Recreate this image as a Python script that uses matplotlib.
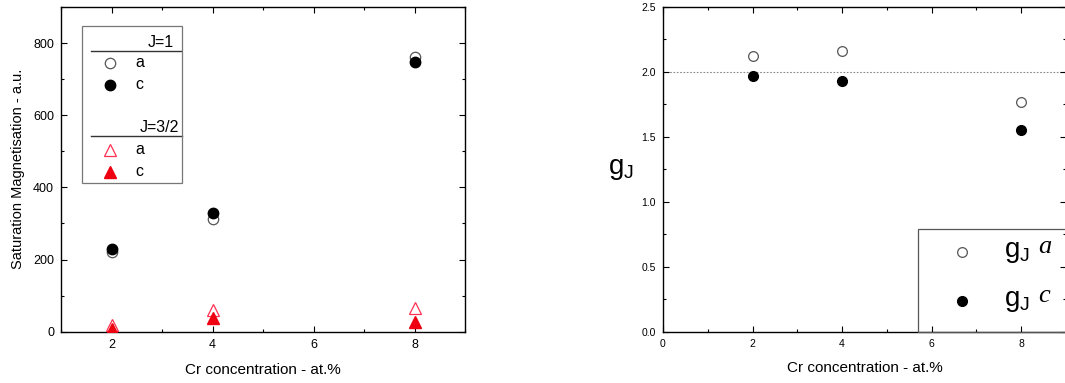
import matplotlib
matplotlib.use("Agg")
import matplotlib.pyplot as plt
from matplotlib.ticker import MultipleLocator
from matplotlib.patches import Rectangle

plt.rcParams['font.family'] = ['Liberation Sans', 'DejaVu Sans']
plt.rcParams['mathtext.default'] = 'regular'

# ---- data: left panel (saturation magnetisation) ----
conc = [2, 4, 8]
j1_a = [222, 312, 762]
j1_c = [230, 330, 748]
j32_a = [18, 60, 65]
j32_c = [8, 37, 28]

# ---- data: right panel (g_J) ----
g_a = [2.12, 2.16, 1.77]
g_c = [1.97, 1.93, 1.55]
g_ref = 2.0

W, H = 1065, 383
fig = plt.figure(figsize=(W/100, H/100), dpi=100)

ax1 = fig.add_axes([61/W, (H-331.7)/H, 404/W, 324.7/H])
ax2 = fig.add_axes([663/W, (H-331.7)/H, 403/W, 324.7/H])

for ax in (ax1, ax2):
    ax.tick_params(which='both', direction='in', top=True, right=True)
    ax.tick_params(which='major', length=4, width=0.8)
    ax.tick_params(which='minor', length=2.5, width=0.8)
    for s in ax.spines.values():
        s.set_linewidth(1.0)

# Left panel
ax1.plot(conc, j1_a, 'o', mfc='white', mec='#555555', ms=7.5, mew=0.9, zorder=3)
ax1.plot(conc, j1_c, 'o', color='black', ms=7.5, zorder=4)
ax1.plot(conc, j32_a, '^', mfc='white', mec='#ff3050', ms=8, mew=0.9, zorder=3)
ax1.plot(conc, j32_c, '^', color='#ee0010', ms=8, zorder=4)
ax1.set_xlim(1, 9)
ax1.set_ylim(0, 900)
ax1.xaxis.set_major_locator(MultipleLocator(2))
ax1.xaxis.set_minor_locator(MultipleLocator(1))
ax1.yaxis.set_major_locator(MultipleLocator(200))
ax1.yaxis.set_minor_locator(MultipleLocator(100))
ax1.set_xticks([2, 4, 6, 8])
ax1.tick_params(labelsize=9, pad=5)
ax1.set_xlabel('Cr concentration - at.%', fontsize=11, labelpad=9)
ax1.set_ylabel('Saturation Magnetisation - a.u.', fontsize=10.5, labelpad=6)

# Left custom legend
T = ax1.transAxes
fs = 11.5
ax1.add_patch(Rectangle((0.052, 0.458), 0.248, 0.483, transform=T, fill=False,
                        ec='#777777', lw=0.9, zorder=5))
ax1.text(0.28, 0.892, 'J=1', transform=T, ha='right', va='center', fontsize=fs)
ax1.plot([0.074, 0.297], [0.866, 0.866], transform=T, color='#333333', lw=1.0)
ax1.plot([0.121], [0.828], 'o', transform=T, mfc='white', mec='#555555', ms=7.5, mew=0.9)
ax1.text(0.183, 0.828, 'a', transform=T, va='center', fontsize=fs)
ax1.plot([0.121], [0.76], 'o', transform=T, color='black', ms=7.5)
ax1.text(0.183, 0.76, 'c', transform=T, va='center', fontsize=fs)
ax1.text(0.292, 0.63, 'J=3/2', transform=T, ha='right', va='center', fontsize=fs)
ax1.plot([0.074, 0.30], [0.603, 0.603], transform=T, color='#333333', lw=1.0)
ax1.plot([0.121], [0.56], '^', transform=T, mfc='white', mec='#ff3050', ms=8, mew=0.9)
ax1.text(0.183, 0.56, 'a', transform=T, va='center', fontsize=fs)
ax1.plot([0.121], [0.492], '^', transform=T, color='#ee0010', ms=8)
ax1.text(0.183, 0.492, 'c', transform=T, va='center', fontsize=fs)

# Right panel
ax2.axhline(g_ref, color='#888888', lw=0.8, ls=(0, (1.5, 1.5)), zorder=1)
ax2.plot(conc, g_a, 'o', mfc='white', mec='#555555', ms=7, mew=0.9, zorder=3)
ax2.plot(conc, g_c, 'o', color='black', ms=7, zorder=4)
ax2.set_xlim(0, 9)
ax2.set_ylim(0, 2.5)
ax2.xaxis.set_major_locator(MultipleLocator(2))
ax2.xaxis.set_minor_locator(MultipleLocator(1))
ax2.yaxis.set_major_locator(MultipleLocator(0.5))
ax2.yaxis.set_minor_locator(MultipleLocator(0.25))
ax2.tick_params(labelsize=7.5, pad=5)
ax2.set_xlabel('Cr concentration - at.%', fontsize=11, labelpad=9)
ax2.set_ylabel('g$_J$', fontsize=20, rotation=0, labelpad=15, va='center')

T2 = ax2.transAxes
ax2.add_patch(Rectangle((0.632, 0.0), 0.5, 0.315, transform=T2, fill=False,
                        ec='#555555', lw=0.9, zorder=5, clip_on=False))
ax2.plot([0.741], [0.245], 'o', transform=T2, mfc='white', mec='#555555', ms=7, mew=0.9)
ax2.plot([0.741], [0.094], 'o', transform=T2, color='black', ms=7)
ax2.text(0.846, 0.245, 'g$_J$', transform=T2, va='center', fontsize=20)
ax2.text(0.93, 0.26, 'a', transform=T2, va='center', fontsize=19,
         family='Liberation Serif', style='italic')
ax2.text(0.846, 0.094, 'g$_J$', transform=T2, va='center', fontsize=20)
ax2.text(0.93, 0.109, 'c', transform=T2, va='center', fontsize=19,
         family='Liberation Serif', style='italic')

fig.savefig('out.png', dpi=100)
